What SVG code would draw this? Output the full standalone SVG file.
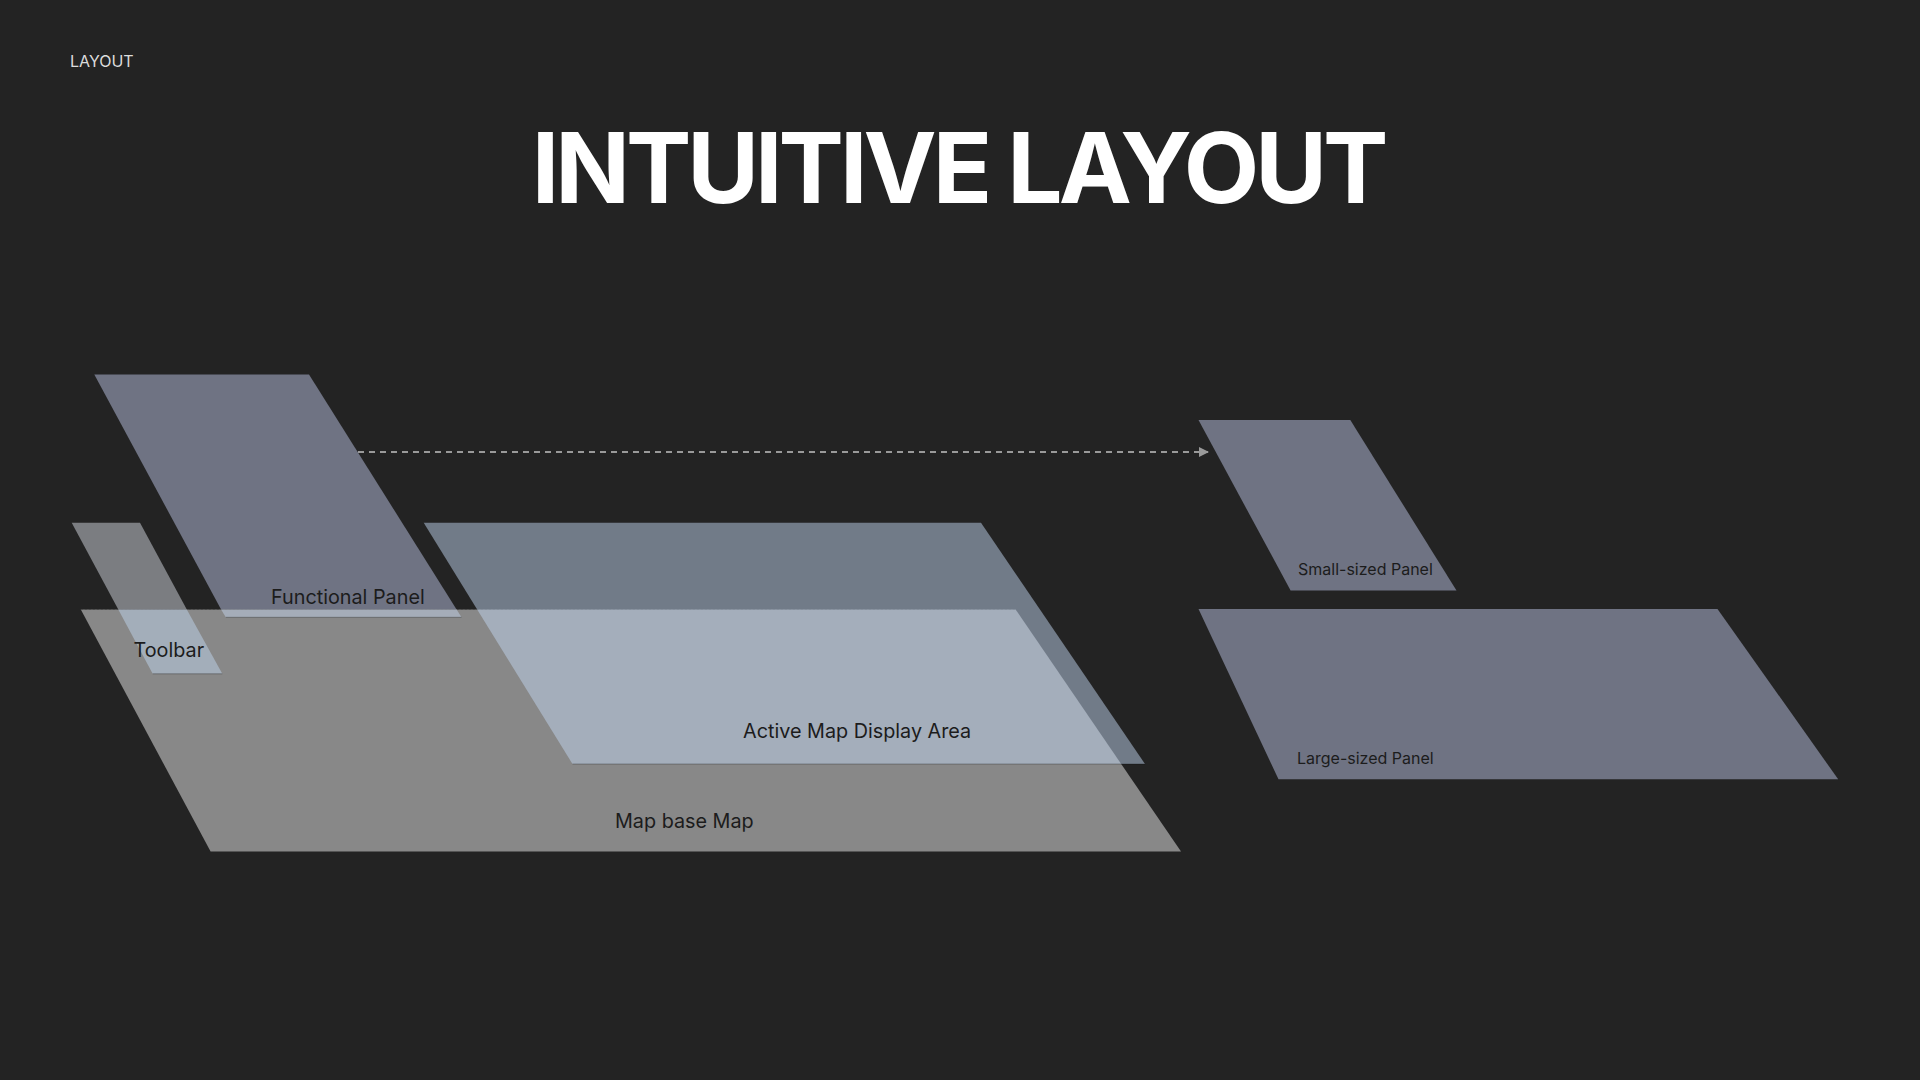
<svg xmlns="http://www.w3.org/2000/svg" width="1920" height="1080" viewBox="0 0 1920 1080">
  <defs>
    <style>
      .lbl { font-family: Inter, "Noto Sans", "Liberation Sans", sans-serif; fill: #1c1c1c; }
      .big { font-size: 19.8px; }
      .small { font-size: 16px; }
      .edge { stroke: rgba(0,0,0,0.28); stroke-width: 1; fill: none; }
    </style>
    <marker id="arrow" viewBox="0 0 10 10" refX="9" refY="5" markerWidth="10" markerHeight="10" markerUnits="userSpaceOnUse" orient="auto">
      <path d="M0,0 L10,5 L0,10 Z" fill="#9a9a9a"/>
    </marker>
  </defs>

  <rect x="0" y="0" width="1920" height="1080" fill="#232323"/>

  <text x="70" y="66.5" font-family="Inter, 'Noto Sans', 'Liberation Sans', sans-serif" font-size="16" fill="#dcdcdc">LAYOUT</text>
  <text x="958" y="203" text-anchor="middle" font-family="Inter, 'Noto Sans', 'Liberation Sans', sans-serif" font-size="98" font-weight="700" letter-spacing="-4" fill="#ffffff">INTUITIVE LAYOUT</text>

  <g id="map-base">
    <polygon points="80.8,609.5 1015.6,609.5 1181,851.5 210.6,851.5" fill="#888888"/>
    <line x1="80.8" y1="609.5" x2="1015.6" y2="609.5" stroke="#4a4a4a" stroke-width="1" stroke-dasharray="2 2"/>
    <text class="lbl big" x="615" y="827.7">Map base Map</text>
  </g>

  <g id="active-map-display-area">
    <polygon points="423.7,522.8 981,522.8 1145,764 572.5,764" fill="rgba(192,212,238,0.5)"/>
    <line class="edge" x1="572.5" y1="764" x2="1145" y2="764"/>
    <text class="lbl big" x="743" y="737.7">Active Map Display Area</text>
  </g>

  <g id="functional-panel">
    <polygon points="94.3,374.5 309,374.5 456.6,609.5 221.1,609.5" fill="#6f7383"/>
    <polygon points="221.1,609.5 456.6,609.5 461.5,617.3 225.8,617.3" fill="#a5adb9"/>
    <line class="edge" x1="225.8" y1="617.3" x2="461.5" y2="617.3"/>
    <text class="lbl big" x="271" y="604.3">Functional Panel</text>
  </g>

  <g id="toolbar">
    <polygon points="71.7,522.8 140,522.8 186.8,609.5 118.3,609.5" fill="#7b7d81"/>
    <polygon points="118.3,609.5 186.8,609.5 222.3,673.8 152.7,673.8" fill="#a3aeba"/>
    <line class="edge" x1="152.7" y1="673.8" x2="222.3" y2="673.8"/>
    <text class="lbl big" x="133.5" y="656.7">Toolbar</text>
  </g>

  <g id="small-sized-panel">
    <polygon points="1198.5,420 1350.3,420 1456.5,590.5 1290.6,590.5" fill="#6f7383"/>
    <text class="lbl small" x="1298" y="575">Small-sized Panel</text>
  </g>

  <g id="large-sized-panel">
    <polygon points="1198.5,609 1717.5,609 1838.2,779.3 1278.5,779.3" fill="#6f7383"/>
    <text class="lbl small" x="1297" y="764.3">Large-sized Panel</text>
  </g>

  <g id="connectors">
    <line x1="358" y1="452" x2="1208" y2="452" stroke="#9a9a9a" stroke-width="2" stroke-dasharray="6 5" marker-end="url(#arrow)"/>
  </g>
</svg>
